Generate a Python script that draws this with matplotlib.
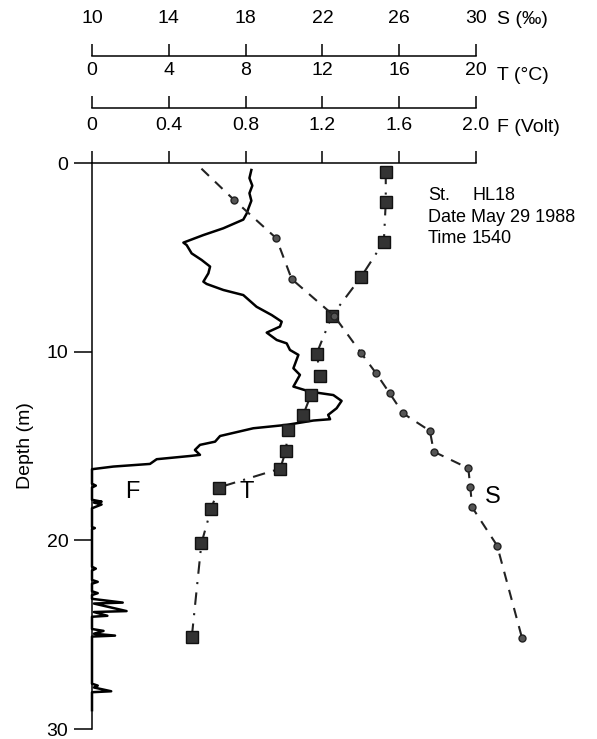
import matplotlib.pyplot as plt

plt.rcParams['font.family'] = ['Liberation Sans', 'DejaVu Sans']

# temperature profile (squares)
T_depth = [0.46, 2.07, 4.17, 6.06, 8.09, 10.1, 11.3, 12.3, 13.35, 14.15, 15.25, 16.2, 17.2, 18.35, 20.15, 25.1]
T_vals = [15.3, 15.3, 15.2, 14.0, 12.5, 11.7, 11.9, 11.4, 11.0, 10.2, 10.1, 9.8, 6.6, 6.2, 5.7, 5.2]

# salinity profile (circles)
S_depth = [0.3, 1.96, 3.99, 6.15, 8.09, 10.05, 11.15, 12.2, 13.27, 14.2, 15.3, 16.18, 17.15, 18.25, 20.28, 25.19]
S_vals = [15.7, 17.4, 19.6, 20.4, 22.6, 24.0, 24.8, 25.5, 26.2, 27.6, 27.8, 29.6, 29.7, 29.8, 31.1, 32.4]

# fluorescence trace
F_depth = [0.37, 0.8, 1.2, 1.6, 2.0, 2.4, 2.67, 3.0, 3.46, 3.82, 4.22, 4.35, 4.79, 5.14, 5.49,
           5.85, 6.29, 6.41, 6.73, 7.0, 7.62, 8.06, 8.41, 8.67, 8.99, 9.38, 9.56, 9.91, 10.17,
           10.88, 11.23, 11.85, 12.12, 12.3, 12.61, 13.0, 13.35, 13.58, 13.65, 13.88, 14.06,
           14.47, 14.77, 14.94, 15.21, 15.47, 15.53, 15.7, 15.95, 16.09, 16.23,
           17.0, 17.1, 17.2, 17.85, 17.95, 18.0, 18.1, 18.3, 19.3, 19.35, 19.4,
           21.4, 21.5, 21.6, 22.1, 22.2, 22.3, 22.7, 22.8, 22.9,
           23.1, 23.3, 23.35, 23.75, 23.8, 24.0, 24.05, 24.7, 24.8, 24.95, 25.05, 25.1,
           27.6, 27.7, 27.8, 28.0, 28.05, 29.0]
F_vals = [0.83, 0.82, 0.835, 0.82, 0.83, 0.815, 0.806, 0.788, 0.684, 0.58, 0.476, 0.493, 0.519, 0.571, 0.615,
          0.606, 0.58, 0.597, 0.684, 0.788, 0.857, 0.936, 0.988, 0.979, 0.91, 0.962, 1.014, 1.031, 1.075,
          1.049, 1.083, 1.049, 1.135, 1.257, 1.30, 1.274, 1.23, 1.24, 1.153, 1.014, 0.84,
          0.667, 0.641, 0.5625, 0.536, 0.5625, 0.51, 0.337, 0.302, 0.111, 0.0,
          0.0, 0.02, 0.0, 0.0, 0.05, 0.01, 0.05, 0.0, 0.0, 0.015, 0.0,
          0.0, 0.02, 0.0, 0.0, 0.03, 0.0, 0.0, 0.03, 0.0,
          0.0, 0.16, 0.01, 0.18, 0.01, 0.08, 0.0, 0.0, 0.06, 0.01, 0.12, 0.0,
          0.0, 0.03, 0.01, 0.10, 0.0, 0.0]

S_ticks = [10, 14, 18, 22, 26, 30]
T_ticks = [0, 4, 8, 12, 16, 20]
F_ticks = [0, 0.4, 0.8, 1.2, 1.6, 2.0]
F_labels = ['0', '0.4', '0.8', '1.2', '1.6', '2.0']
depth_ticks = [0, 10, 20, 30]

W, H = 597, 739
L, R = 92, 476
fig = plt.figure(figsize=(W / 100, H / 100), dpi=100)

ax = fig.add_axes([L / W, 1 - 729 / H, (R - L) / W, (729 - 163) / H])
ax.set_xlim(0, 2.0)
ax.set_ylim(30, 0)

# data axes for T and S, sharing the depth axis
axT = ax.twiny()
axT.set_xlim(0, 20)
axT.axis('off')
axS = ax.twiny()
axS.set_xlim(10, 30)
axS.axis('off')

for s in ['right', 'bottom']:
    ax.spines[s].set_visible(False)
for s in ['top', 'left']:
    ax.spines[s].set_linewidth(1.1)
ax.xaxis.set_ticks_position('top')
ax.xaxis.set_label_position('top')
ax.set_xticks(F_ticks)
ax.set_xticklabels(F_labels)
ax.set_yticks(depth_ticks)
ax.tick_params(axis='x', which='both', top=True, bottom=False, labeltop=True, labelbottom=False,
               direction='out', length=9, width=1.1, pad=12, labelsize=14)
ax.tick_params(axis='y', direction='out', length=13, width=1.1, pad=4, labelsize=14)
ax.set_ylabel('Depth (m)', fontsize=14, labelpad=9)

ax.plot(F_vals, F_depth, color='black', lw=1.8, clip_on=False)

axT.plot(T_vals, T_depth, color='#222222', lw=1.5, linestyle=(0, (6, 4, 1, 4)),
         marker='s', markersize=8, markerfacecolor='#333333', markeredgecolor='#111111', clip_on=False)
axS.plot(S_vals, S_depth, color='#222222', lw=1.5, linestyle=(0, (5, 4)),
         marker='o', markersize=5, markerfacecolor='#555555', markeredgecolor='#222222',
         markevery=list(range(1, len(S_vals))), clip_on=False)


def scale_axis(ytop, lim, ticks):
    a = fig.add_axes([L / W, 1 - ytop / H - 0.0005, (R - L) / W, 0.0005])
    a.set_xlim(*lim)
    a.set_facecolor('none')
    for s in ['right', 'bottom', 'left']:
        a.spines[s].set_visible(False)
    a.spines['top'].set_linewidth(1.1)
    a.xaxis.set_ticks_position('top')
    a.set_xticks(ticks)
    a.set_yticks([])
    a.tick_params(axis='x', direction='out', length=9, width=1.1, pad=12, labelsize=14)
    return a


scale_axis(56, (10, 30), S_ticks)
scale_axis(108, (0, 20), T_ticks)

fig.text(497 / W, 1 - 20 / H, 'S (‰)', fontsize=14, va='center', ha='left')
fig.text(497 / W, 1 - 75 / H, 'T (°C)', fontsize=14, va='center', ha='left')
fig.text(497 / W, 1 - 127 / H, 'F (Volt)', fontsize=14, va='center', ha='left')

fig.text(428 / W, 1 - 195 / H, 'St.', fontsize=13, va='center', ha='left')
fig.text(473 / W, 1 - 195 / H, 'HL18', fontsize=13, va='center', ha='left')
fig.text(428 / W, 1 - 217 / H, 'Date May 29 1988', fontsize=13, va='center', ha='left')
fig.text(428 / W, 1 - 238 / H, 'Time', fontsize=13, va='center', ha='left')
fig.text(472 / W, 1 - 238 / H, '1540', fontsize=13, va='center', ha='left')

fig.text(132 / W, 1 - 492 / H, 'F', fontsize=17, va='center', ha='center')
fig.text(247 / W, 1 - 492 / H, 'T', fontsize=17, va='center', ha='center')
fig.text(493 / W, 1 - 497 / H, 'S', fontsize=17, va='center', ha='center')

fig.savefig('out.png', dpi=100)
